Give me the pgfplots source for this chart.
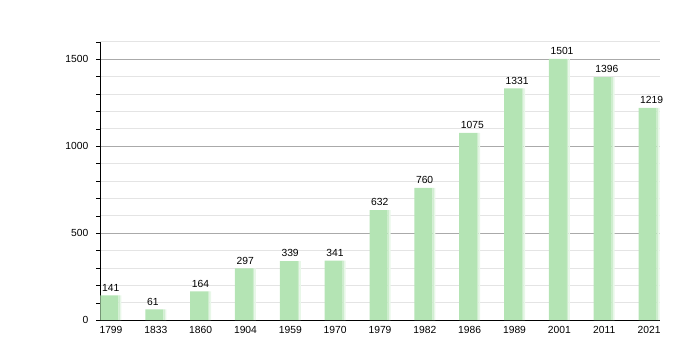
\documentclass[border=0pt]{standalone}
\usepackage{fontspec}
\setmainfont{Liberation Sans}
\usepackage{pgfplots}
\pgfplotsset{compat=1.18}
\definecolor{bargreen}{RGB}{180,228,180}
\pgfplotstableread{
x y
0 141
1 61
2 164
3 297
4 339
5 341
6 632
7 760
8 1075
9 1331
10 1501
11 1396
12 1219
}\popdata
\begin{document}
\fontsize{10.3}{12}\selectfont
\begin{tikzpicture}[x=1pt,y=1pt]
\path[use as bounding box] (0,0) rectangle (700,360);
\begin{axis}[
  at={(100pt,40pt)}, anchor=south west,
  scale only axis, width=560pt, height=278.4pt,
  xmin=-0.245, xmax=12.245, ymin=0, ymax=1600,
  axis lines=left, axis line style={-, black},
  xtick={0,...,12},
  xticklabels={1799,1833,1860,1904,1959,1970,1979,1982,1986,1989,2001,2011,2021},
  x tick style={draw=none},
  ytick={0,500,1000,1500},
  minor ytick={100,200,...,1600},
  ymajorgrids, yminorgrids,
  major grid style={draw={rgb,255:red,170;green,170;blue,170}, line width=0.6pt},
  minor grid style={draw={rgb,255:red,228;green,228;blue,228}, line width=0.6pt},
  tick align=outside, major tick length=4pt, minor tick length=4pt,
  y tick style={black},
  ticklabel style={font=\fontsize{10.3}{12}\selectfont},
  yticklabel style={xshift=-4pt},
  xticklabel style={yshift=1pt},
  /pgf/number format/1000 sep={},
  /pgf/number format/assume math mode=true,
  ybar,
]
\addplot[fill=bargreen, draw=none, bar width=18pt, bar shift=-1.5pt,
  nodes near coords,
  nodes near coords style={font=\fontsize{10.3}{12}\selectfont, black, anchor=south west, inner sep=0pt, xshift=-7.5pt, yshift=4pt, /pgf/number format/1000 sep={}, /pgf/number format/assume math mode=true}]
  table[x=x, y=y] {\popdata};
\addplot[fill=bargreen!65, draw=none, bar width=1.5pt, bar shift=8.25pt] table[x=x, y=y] {\popdata};
\addplot[fill=bargreen!30, draw=none, bar width=1.5pt, bar shift=9.75pt] table[x=x, y=y] {\popdata};
\end{axis}
\end{tikzpicture}
\end{document}
